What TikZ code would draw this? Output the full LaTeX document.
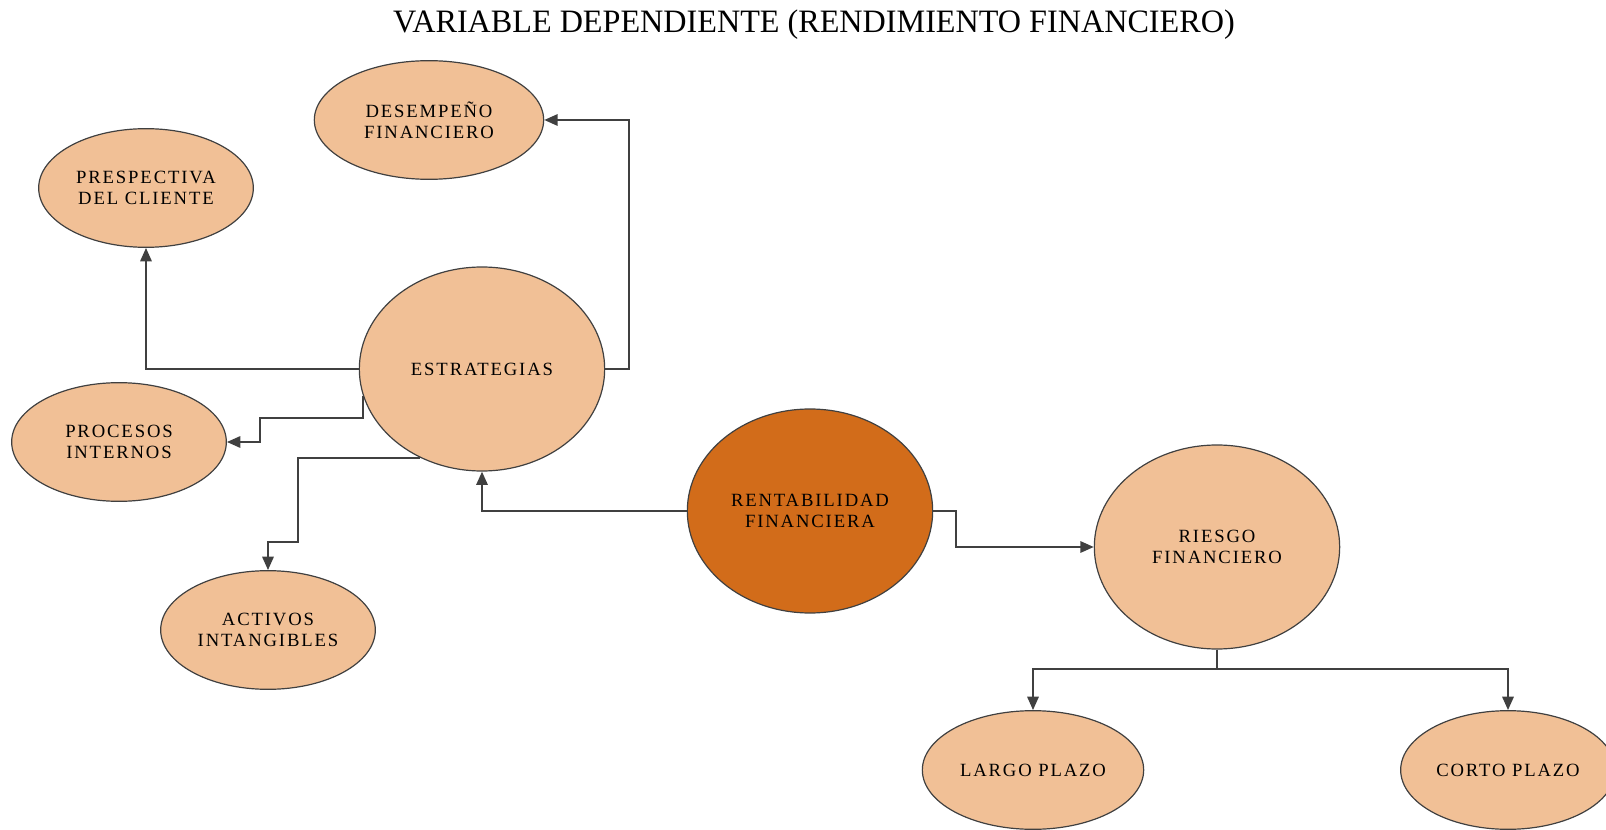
\documentclass[tikz,border=0pt]{standalone}
\usepackage{fontspec}
\setmainfont{Liberation Serif}
\newfontfamily\lblfont{Liberation Serif}[LetterSpace=10]
\usetikzlibrary{arrows.meta, shapes.geometric}
\definecolor{peach}{RGB}{241,192,150}
\definecolor{rust}{RGB}{210,108,26}
\definecolor{wire}{RGB}{64,64,64}

\begin{document}
\begin{tikzpicture}[x=0.75pt, y=-0.75pt, >={Triangle[length=10pt,width=8.5pt]},
    bubble/.style={ellipse, draw=wire, line width=0.9pt, fill=peach, inner sep=0pt,
      minimum width=161pt, minimum height=89pt, align=center,
      font=\lblfont\fontsize{14}{16}\selectfont},
    bigbubble/.style={bubble, minimum width=184pt, minimum height=153pt},
    link/.style={->, draw=wire, line width=1.5pt}]
        \useasboundingbox (0,0) rectangle (1606,830);
        \node[font=\fontsize{24.5}{28}\selectfont, xscale=0.985] (title) at (814,25) {VARIABLE DEPENDIENTE (RENDIMIENTO FINANCIERO)};

        \node[bubble, minimum width=172pt] (desemp) at (429,120) {DESEMPEÑO\\FINANCIERO};
        \node[bubble] (cliente) at (146,188) {PRESPECTIVA\\DEL CLIENTE};
        \node[bigbubble] (estr) at (482,369) {ESTRATEGIAS};
        \node[bubble] (proc) at (119,442) {PROCESOS\\INTERNOS};
        \node[bubble] (activos) at (268,630) {ACTIVOS\\INTANGIBLES};
        \node[bigbubble, fill=rust] (rent) at (810,511) {RENTABILIDAD\\FINANCIERA};
        \node[bigbubble] (riesgo) at (1217,547) {RIESGO\\FINANCIERO};
        \node[bubble, minimum width=166pt] (largo) at (1033,770) {LARGO PLAZO};
        \node[bubble] (corto) at (1508,770) {CORTO PLAZO};

        \draw[link] (estr.west) -| (cliente.south);
        \draw[link] (estr.east) -- ++(24,0) |- (desemp.east);
        \draw[link] (estr.193) |- (260,418) |- (proc.east);
        \draw[link] (estr.235) -| (298,542) -| (activos.north);
        \draw[link] (rent.west) -| (estr.south);
        \draw[link] (rent.east) -- ++(23,0) |- (riesgo.west);
        \draw[link] (riesgo.south) -- ++(0,19) -| (largo.north);
        \draw[link] (riesgo.south) -- ++(0,19) -| (corto.north);
      \end{tikzpicture}
\end{document}
